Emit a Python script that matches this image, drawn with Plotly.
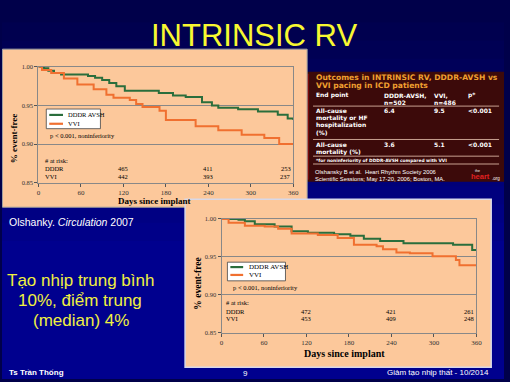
import plotly.graph_objects as go

W, H = 510, 382
def px(x): return x / W
def py(y): return 1 - y / H

# ---------------- data ----------------
day_ticks = [0, 60, 120, 180, 240, 300, 360]
surv_ticks = [0.85, 0.90, 0.95, 1.00]
surv_tick_text = ["0.85", "0.90", "0.95", "1.00"]

c1_dddr_days = [0, 8, 14, 22, 32, 70, 80, 90, 100, 110, 122, 170, 190, 208, 231, 245, 254, 282, 310, 338, 352, 360]
c1_dddr_surv = [1.000, 0.998, 0.995, 0.992, 0.990, 0.988, 0.986, 0.983, 0.979, 0.975, 0.969, 0.966, 0.963, 0.961,
                0.954, 0.950, 0.947, 0.945, 0.942, 0.938, 0.933, 0.931]
c1_vvi_days = [0, 5, 18, 36, 55, 78, 96, 106, 129, 138, 147, 171, 180, 222, 254, 287, 319, 340, 360]
c1_vvi_surv = [1.000, 0.996, 0.992, 0.985, 0.977, 0.971, 0.964, 0.960, 0.957, 0.952, 0.948, 0.943, 0.931, 0.923,
               0.918, 0.912, 0.908, 0.900, 0.900]

c2_dddr_days = [0, 24, 33, 47, 75, 99, 122, 159, 182, 201, 224, 257, 327, 354, 360]
c2_dddr_surv = [1.000, 0.999, 0.997, 0.993, 0.990, 0.984, 0.982, 0.980, 0.978, 0.974, 0.971, 0.968, 0.966, 0.959, 0.959]
c2_vvi_days = [0, 10, 33, 61, 80, 99, 136, 164, 187, 219, 228, 247, 266, 298, 331, 336, 360]
c2_vvi_surv = [1.000, 0.995, 0.991, 0.990, 0.987, 0.981, 0.979, 0.975, 0.966, 0.964, 0.960, 0.956, 0.955, 0.951,
               0.946, 0.939, 0.939]

risk_days = [120, 240, 360]
c1_risk_dddr = [465, 411, 253]
c1_risk_vvi = [442, 393, 237]
c2_risk_dddr = [472, 421, 261]
c2_risk_vvi = [453, 409, 248]

table_cols = [["End point"], ["DDDR-AVSH,", "n=502"], ["VVI,", "n=486"], ["p*"]]
table_rows = [
    [["All-cause", "mortality or HF", "hospitalization", "(%)"], ["6.4"], ["9.5"], ["<0.001"]],
    [["All-cause", "mortality (%)"], ["3.6"], ["5.1"], ["<0.001"]],
]

GREEN = "#2a6e3c"
ORANGE = "#f07030"
PEACH = "#fcc89b"
SERIF = "Liberation Serif"
SANS = "Liberation Sans"

fig = go.Figure()

fig.add_trace(go.Scatter(x=c1_dddr_days, y=c1_dddr_surv, mode="lines", line=dict(color=GREEN, width=2, shape="hv"),
                         xaxis="x", yaxis="y", showlegend=False))
fig.add_trace(go.Scatter(x=c1_vvi_days, y=c1_vvi_surv, mode="lines", line=dict(color=ORANGE, width=2, shape="hv"),
                         xaxis="x", yaxis="y", showlegend=False))
fig.add_trace(go.Scatter(x=c2_dddr_days, y=c2_dddr_surv, mode="lines", line=dict(color=GREEN, width=2, shape="hv"),
                         xaxis="x2", yaxis="y2", showlegend=False))
fig.add_trace(go.Scatter(x=c2_vvi_days, y=c2_vvi_surv, mode="lines", line=dict(color=ORANGE, width=2, shape="hv"),
                         xaxis="x2", yaxis="y2", showlegend=False))

shapes = []
# background gradient
n = 14
top, bottom = (0, 0, 0x4a), (0, 0, 0x8e)
for i in range(n):
    y0 = i * 260 / n
    y1 = (i + 1) * 260 / n + 1
    t = i / (n - 1)
    c = tuple(int(top[k] + (bottom[k] - top[k]) * t) for k in range(3))
    shapes.append(dict(type="rect", xref="paper", yref="paper", x0=0, x1=1, y0=py(y1), y1=py(y0),
                       fillcolor="rgb(%d,%d,%d)" % c, line=dict(width=0), layer="below"))
shapes.append(dict(type="rect", xref="paper", yref="paper", x0=0, x1=1, y0=0, y1=py(259),
                   fillcolor="rgb(0,0,142)", line=dict(width=0), layer="below"))

# table box
shapes.append(dict(type="rect", xref="paper", yref="paper", x0=px(304), x1=1, y0=py(181), y1=py(69),
                   fillcolor="#3c0a0a", line=dict(width=0), layer="below"))
shapes.append(dict(type="rect", xref="paper", yref="paper", x0=px(304), x1=px(312), y0=py(179), y1=py(71),
                   fillcolor="#7a0a0a", line=dict(width=0), layer="below"))
for yy in [104, 138, 155, 163]:
    shapes.append(dict(type="line", xref="paper", yref="paper", x0=px(316), x1=px(505), y0=py(yy), y1=py(yy),
                       line=dict(color="#c8a090", width=1), layer="below"))

# chart panels
shapes.append(dict(type="rect", xref="paper", yref="paper", x0=px(0.5), x1=px(310), y0=py(207), y1=py(46),
                   fillcolor=PEACH, line=dict(color="#a0a0a0", width=1), layer="below"))
shapes.append(dict(type="rect", xref="paper", yref="paper", x0=px(186), x1=px(497), y0=py(370), y1=py(199),
                   fillcolor=PEACH, line=dict(color="#d8d8e8", width=1.5), layer="below"))

def legend_box(x0, y0, x1, y1, lx0, lx1, yg, yo):
    shapes.append(dict(type="rect", xref="paper", yref="paper", x0=px(x0), x1=px(x1), y0=py(y1), y1=py(y0),
                       fillcolor="white", line=dict(color="#444", width=0.8)))
    shapes.append(dict(type="line", xref="paper", yref="paper", x0=px(lx0), x1=px(lx1), y0=py(yg), y1=py(yg),
                       line=dict(color=GREEN, width=2.2)))
    shapes.append(dict(type="line", xref="paper", yref="paper", x0=px(lx0), x1=px(lx1), y0=py(yo), y1=py(yo),
                       line=dict(color=ORANGE, width=2.2)))

legend_box(45, 107, 100, 127, 48, 62, 113, 122)
legend_box(229, 263, 288, 282, 232, 245, 268, 276)

ann = []
def T(x, y, text, size=7, color="black", font=SERIF, anchor="left", bold=False, **kw):
    if bold:
        text = "<b>" + text + "</b>"
    d = dict(x=px(x), y=py(y), xref="paper", yref="paper", text=text, showarrow=False,
             font=dict(size=size, color=color, family=font), xanchor=anchor, yanchor="middle")
    d.update(kw)
    ann.append(d)

# title
T(256, 32, "INTRINSIC RV", size=31, color="#f8f830", font=SANS, anchor="center")

# chart 1 texts
T(65, 113, "DDDR AVSH", size=6.5)
T(65, 122, "VVI", size=6.5)
T(47, 134, "p < 0.001, noninferiority", size=6.5)
T(42, 159, "# at risk:", size=6.5)
T(42, 168, "DDDR", size=6.5)
T(42, 176, "VVI", size=6.5)
T(155, 201, "Days since implant", size=9, bold=True, anchor="center")
T(13, 137, "% event-free", size=9, bold=True, anchor="center", textangle=-90)

# chart 2 texts
T(249, 268, "DDDR AVSH", size=7)
T(249, 276, "VVI", size=7)
T(233, 289, "p < 0.001, noninferiority", size=6.5)
T(226, 304, "# at risk:", size=6.5)
T(226, 313, "DDDR", size=6.5)
T(226, 320, "VVI", size=6.5)
T(348, 356, "Days since implant", size=10, bold=True, anchor="center")
T(199, 285, "% event-free", size=9.5, bold=True, anchor="center", textangle=-90)

def risk(xref, days, vals, y):
    for d, v in zip(days, vals):
        ann.append(dict(x=d, y=py(y), xref=xref, yref="paper", text=str(v), showarrow=False,
                        font=dict(size=6.5, family=SERIF, color="black"),
                        xanchor="right" if d == 360 else "center", yanchor="middle"))
risk("x", risk_days, c1_risk_dddr, 168)
risk("x", risk_days, c1_risk_vvi, 176)
risk("x2", risk_days, c2_risk_dddr, 313)
risk("x2", risk_days, c2_risk_vvi, 320)

# table texts
TC = "#f0a030"
TF = "DejaVu Sans"
T(317, 75, "Outcomes in INTRINSIC RV, DDDR-AVSH vs", size=7.6, color=TC, font=TF, bold=True)
T(317, 83.5, "VVI pacing in ICD patients", size=7.6, color=TC, font=TF, bold=True)
col_x = [317, 386, 437, 471]
LH = 7.4
def cell(cx, y0, lines):
    for k, line in enumerate(lines):
        T(cx, y0 + k * LH, line, size=6.0, color="white", font=TF, bold=True)
for cx, h in zip(col_x, table_cols):
    cell(cx, 93, h)
row_y = [108.5, 143.5]
for ry, row in zip(row_y, table_rows):
    for cx, v in zip(col_x, row):
        cell(cx, ry, v)
T(317, 159, "*for noninferiority of DDDR-AVSH compared with VVI", size=4.4, color="white", font=TF, bold=True)
T(316, 171.5, "Olshansky B et al.  Heart Rhythm Society 2006", size=5.8, color="white", font=SANS)
T(316, 178, "Scientific Sessions; May 17-20, 2006; Boston, MA.", size=5.8, color="white", font=SANS)
T(479, 170, "the", size=3.5, color="white", font=SANS)
T(474, 176, "<b>heart</b>", size=7.5, color="#e02020", font=SANS)
T(496, 178, ".org", size=4.5, color="white", font=SANS)

# left texts
T(5, 222, "Olshanky. <i>Circulation</i> 2007", size=10.5, color="white", font=SANS)
T(80, 282, "Tạo nhịp trung bình", size=17, color="#f0f040", font=SANS, anchor="center")
T(79, 302, "10%, điểm trung", size=17, color="#f0f040", font=SANS, anchor="center")
T(80, 322, "(median) 4%", size=17, color="#f0f040", font=SANS, anchor="center")

# footer
T(5, 375, "Ts Trần Thống", size=8, color="white", font=SANS, bold=True)
T(247, 376, "9", size=8, color="white", font=SANS, anchor="center")
T(497, 375, "Giảm tạo nhịp thất - 10/2014", size=8, color="white", font=SANS, anchor="right")

axis_common = dict(range=[0, 360], tickvals=day_ticks, ticks="outside", ticklen=3, tickcolor="#555",
                   showline=True, linecolor="#888", linewidth=1, mirror=True, showgrid=False, zeroline=False,
                   tickfont=dict(size=7, family=SERIF, color="#333"), fixedrange=True)
yaxis_common = dict(range=[0.85, 1.00], tickvals=surv_ticks, ticktext=surv_tick_text, ticks="outside", ticklen=3,
                    tickcolor="#555", showline=True, linecolor="#888", linewidth=1, mirror=True, showgrid=True,
                    gridcolor="#888", gridwidth=1, zeroline=False,
                    tickfont=dict(size=6.5, family=SERIF, color="#333"), fixedrange=True)

fig.update_layout(
    width=W, height=H, margin=dict(l=0, r=0, t=0, b=0),
    paper_bgcolor="#00004a", plot_bgcolor="white",
    xaxis=dict(domain=[px(37), px(296)], anchor="y", **axis_common),
    yaxis=dict(domain=[py(182), py(64)], anchor="x", **yaxis_common),
    xaxis2=dict(domain=[px(223), px(482)], anchor="y2", **axis_common),
    yaxis2=dict(domain=[py(335), py(219)], anchor="x2", **yaxis_common),
    shapes=shapes, annotations=ann, showlegend=False,
)

fig.write_html("out.html", config={"displayModeBar": False},
               post_script="document.body.style.margin='0';document.body.style.overflow='hidden';")
